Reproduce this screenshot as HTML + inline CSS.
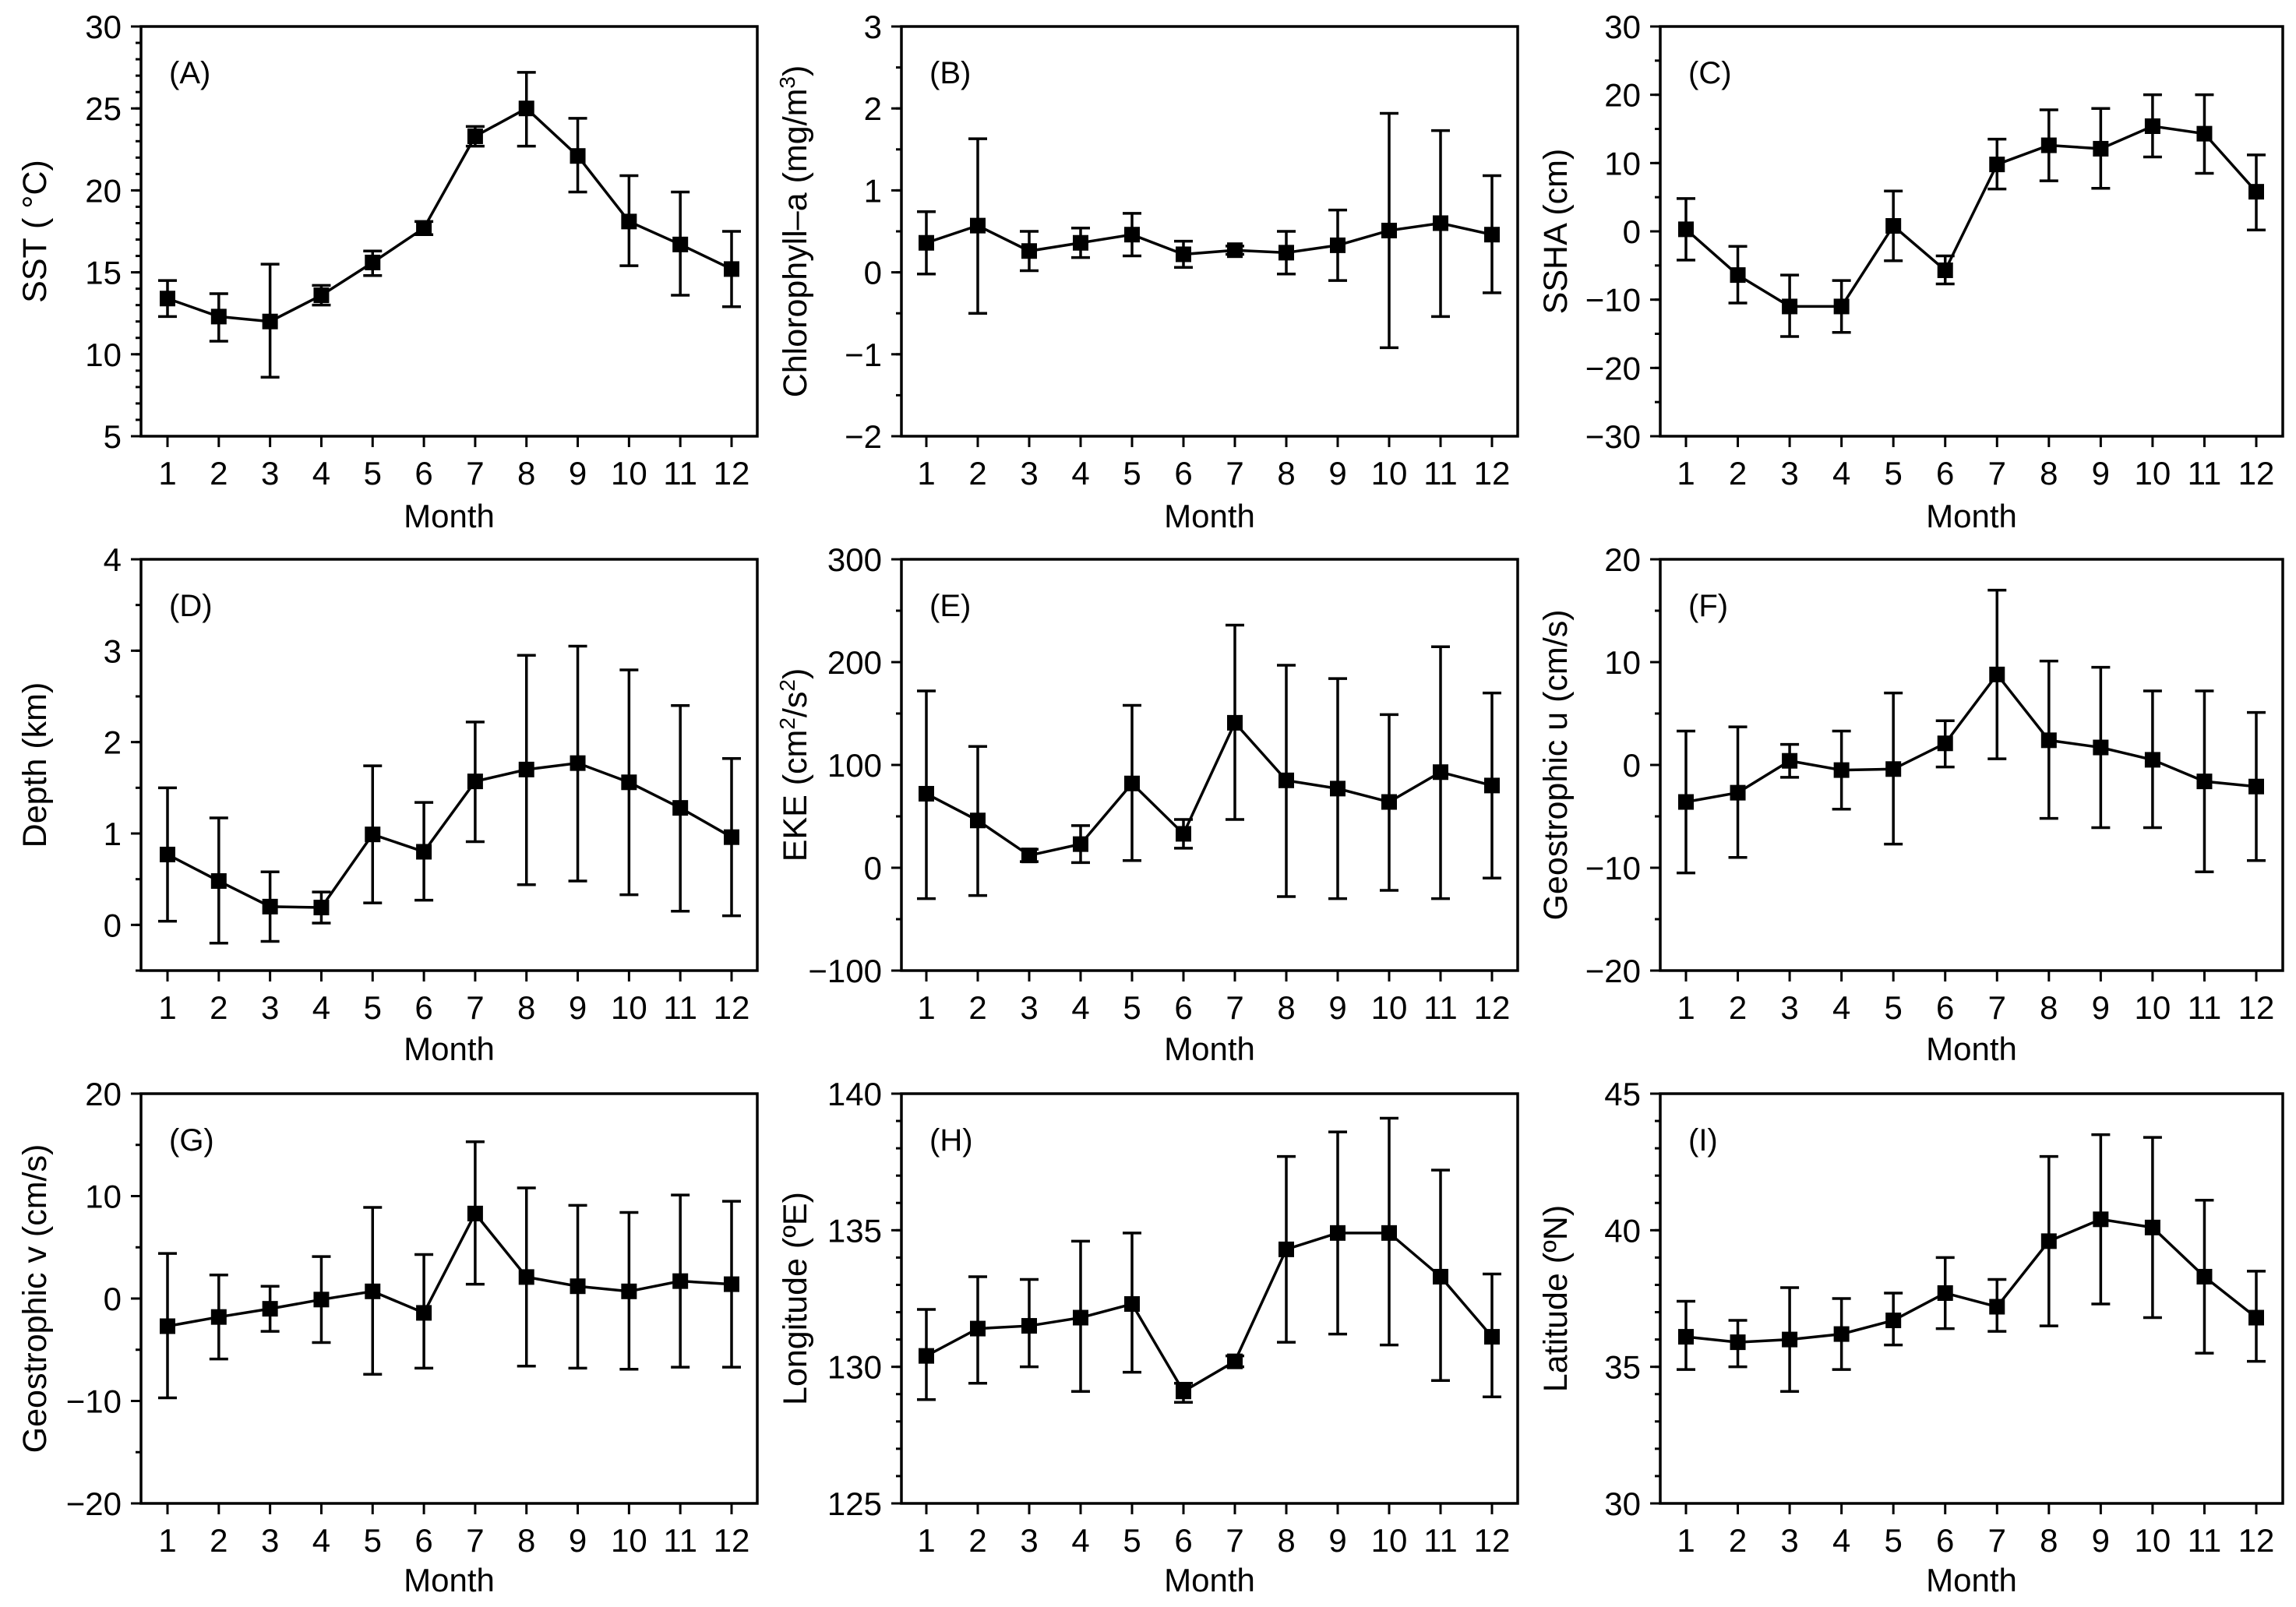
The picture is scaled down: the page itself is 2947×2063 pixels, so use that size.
<!DOCTYPE html>
<html><head><meta charset="utf-8"><style>
html,body{margin:0;padding:0;background:#fff;}
svg{display:block;font-family:"Liberation Sans",Arial,sans-serif;}
</style></head><body>
<svg id="fig" width="2947" height="2063" viewBox="0 0 2947 2063" xmlns="http://www.w3.org/2000/svg"></svg>
<script>
const months = [1,2,3,4,5,6,7,8,9,10,11,12];
const sstMean = [13.4,12.3,12.0,13.6,15.6,17.7,23.3,25.0,22.1,18.1,16.7,15.2];
const sstLo = [12.3,10.8,8.6,13.0,14.8,17.3,22.7,22.7,19.9,15.4,13.6,12.9];
const sstHi = [14.5,13.7,15.5,14.2,16.3,18.1,23.9,27.2,24.4,20.9,19.9,17.5];
const sstTicks = [5,10,15,20,25,30];
const chlMean = [0.36,0.57,0.26,0.36,0.46,0.22,0.27,0.24,0.33,0.51,0.6,0.46];
const chlLo = [-0.02,-0.5,0.02,0.18,0.2,0.06,0.22,-0.02,-0.1,-0.92,-0.54,-0.25];
const chlHi = [0.74,1.63,0.5,0.54,0.72,0.38,0.32,0.5,0.76,1.94,1.73,1.18];
const chlTicks = [-2,-1,0,1,2,3];
const sshaMean = [0.3,-6.4,-11,-11,0.8,-5.7,9.8,12.6,12.1,15.4,14.3,5.8];
const sshaLo = [-4.2,-10.5,-15.4,-14.8,-4.3,-7.7,6.2,7.4,6.3,10.9,8.5,0.2];
const sshaHi = [4.8,-2.2,-6.4,-7.2,5.9,-3.6,13.5,17.8,18,20,20,11.2];
const sshaTicks = [-30,-20,-10,0,10,20,30];
const depMean = [0.77,0.48,0.2,0.19,0.99,0.8,1.57,1.7,1.77,1.56,1.28,0.96];
const depLo = [0.04,-0.2,-0.18,0.02,0.24,0.27,0.91,0.44,0.48,0.33,0.15,0.1];
const depHi = [1.5,1.17,0.58,0.36,1.74,1.34,2.22,2.95,3.05,2.79,2.4,1.82];
const depTicks = [0,1,2,3,4];
const ekeMean = [72,46,12,23,82,33,141,85,77,64,93,80];
const ekeLo = [-30,-27,6,5,7,19,47,-28,-30,-22,-30,-10];
const ekeHi = [172,118,18,41,158,47,236,197,184,149,215,170];
const ekeTicks = [-100,0,100,200,300];
const uMean = [-3.6,-2.7,0.4,-0.5,-0.4,2.1,8.8,2.4,1.7,0.5,-1.6,-2.1];
const uLo = [-10.5,-9,-1.2,-4.3,-7.7,-0.2,0.6,-5.2,-6.1,-6.1,-10.4,-9.3];
const uHi = [3.3,3.7,2,3.3,7,4.3,17,10.1,9.5,7.2,7.2,5.1];
const uTicks = [-20,-10,0,10,20];
const vMean = [-2.7,-1.8,-1,-0.1,0.7,-1.4,8.3,2.1,1.2,0.7,1.7,1.4];
const vLo = [-9.7,-5.9,-3.2,-4.3,-7.4,-6.8,1.4,-6.6,-6.8,-6.9,-6.7,-6.7];
const vHi = [4.4,2.3,1.2,4.1,8.9,4.3,15.3,10.8,9.1,8.4,10.1,9.5];
const vTicks = [-20,-10,0,10,20];
const lonMean = [130.4,131.4,131.5,131.8,132.3,129.1,130.2,134.3,134.9,134.9,133.3,131.1];
const lonLo = [128.8,129.4,130,129.1,129.8,128.7,130,130.9,131.2,130.8,129.5,128.9];
const lonHi = [132.1,133.3,133.2,134.6,134.9,129.4,130.4,137.7,138.6,139.1,137.2,133.4];
const lonTicks = [125,130,135,140];
const latMean = [36.1,35.9,36.0,36.2,36.7,37.7,37.2,39.6,40.4,40.1,38.3,36.8];
const latLo = [34.9,35.0,34.1,34.9,35.8,36.4,36.3,36.5,37.3,36.8,35.5,35.2];
const latHi = [37.4,36.7,37.9,37.5,37.7,39.0,38.2,42.7,43.5,43.4,41.1,38.5];
const latTicks = [30,35,40,45];

const NS='http://www.w3.org/2000/svg';
const svg=document.getElementById('fig');
function mk(tag,attrs,parent){const e=document.createElementNS(NS,tag);for(const k in attrs)e.setAttribute(k,attrs[k]);(parent||svg).appendChild(e);return e;}

const cols=[{l:181,r:972,t1:215,t12:939,tx:44},{l:1157,r:1948,t1:1189,t12:1915,tx:1020},{l:2131,r:2930,t1:2164,t12:2896,tx:1996}];
const rows=[{t:34,b:560,lab:607,mon:662},{t:718,b:1246,lab:1293,mon:1346},{t:1404,b:1930,lab:1977,mon:2028}];

const panels=[
 {id:'a',lab:'(A)',min:5,max:30,minor:1,ticks:sstTicks,m:sstMean,lo:sstLo,hi:sstHi,title:['SST ( °C)']},
 {id:'b',lab:'(B)',min:-2,max:3,minor:0.5,ticks:chlTicks,m:chlMean,lo:chlLo,hi:chlHi,title:['Chlorophyll–a (mg/m','3',')']},
 {id:'c',lab:'(C)',min:-30,max:30,minor:5,ticks:sshaTicks,m:sshaMean,lo:sshaLo,hi:sshaHi,title:['SSHA (cm)']},
 {id:'d',lab:'(D)',min:-0.5,max:4,minor:0.5,ticks:depTicks,m:depMean,lo:depLo,hi:depHi,title:['Depth (km)']},
 {id:'e',lab:'(E)',min:-100,max:300,minor:50,ticks:ekeTicks,m:ekeMean,lo:ekeLo,hi:ekeHi,title:['EKE (cm','2','/s','2',')']},
 {id:'f',lab:'(F)',min:-20,max:20,minor:5,ticks:uTicks,m:uMean,lo:uLo,hi:uHi,title:['Geostrophic u (cm/s)']},
 {id:'g',lab:'(G)',min:-20,max:20,minor:5,ticks:vTicks,m:vMean,lo:vLo,hi:vHi,title:['Geostrophic v (cm/s)']},
 {id:'h',lab:'(H)',min:125,max:140,minor:1,ticks:lonTicks,m:lonMean,lo:lonLo,hi:lonHi,title:['Longitude (ºE)']},
 {id:'i',lab:'(I)',min:30,max:45,minor:1,ticks:latTicks,m:latMean,lo:latLo,hi:latHi,title:['Latitude (ºN)']}
];

panels.forEach((p,pi)=>{
 const c=cols[pi%3], r=rows[Math.floor(pi/3)];
 const g=mk('g',{});
 
 
 const X=mo=>c.t1+(mo-1)*(c.t12-c.t1)/11;
 const Y=v=>r.b-(v-p.min)/(p.max-p.min)*(r.b-r.t);
 const nMin=Math.round((p.max-p.min)/p.minor);
 for(let k=0;k<=nMin;k++){const v=p.min+k*p.minor;const y=Y(v);
  const t=mk('line',{x1:c.l-7,x2:c.l,y1:y,y2:y,stroke:'#000','stroke-width':3},g);
  
  }
 p.ticks.forEach(v=>{const y=Y(v);
  const t=mk('line',{x1:c.l-13,x2:c.l,y1:y,y2:y,stroke:'#000','stroke-width':3},g);
  
  
  const tx=mk('text',{x:c.l-25,y:y+15,'text-anchor':'end','font-size':42},g);
  tx.textContent=(v<0?'−'+Math.abs(v):String(v));
  
  });
 months.forEach(mo=>{const x=X(mo);
  const t=mk('line',{x1:x,x2:x,y1:r.b,y2:r.b+14,stroke:'#000','stroke-width':3},g);
  
  
  const tx=mk('text',{x:x,y:r.lab+15,'text-anchor':'middle','font-size':42},g);
  tx.textContent=String(mo);
  
  });
 const frame=mk('rect',{x:c.l,y:r.t,width:c.r-c.l,height:r.b-r.t,fill:'none',stroke:'#000','stroke-width':3.5},g);
 
 
 const mt=mk('text',{x:(c.l+c.r)/2,y:r.mon+15,'text-anchor':'middle','font-size':42},g);
 mt.textContent='Month';
 
 
 const cy=(r.t+r.b)/2;
 const yt=mk('text',{x:0,y:0,'text-anchor':'middle','font-size':43,transform:'translate('+(c.tx+15)+','+cy+') rotate(-90)'},g);
 p.title.forEach((s,i)=>{const ts=mk('tspan',{},yt);
  if(i%2===1){ts.setAttribute('baseline-shift','super');ts.setAttribute('font-size','28');}
  ts.textContent=s;});
 
 
 const pl=mk('text',{x:c.l+36,y:r.t+73,'font-size':40},g);
 pl.textContent=p.lab;
 
 
 months.forEach((mo,i)=>{const x=X(mo);
  const eb=mk('path',{d:'M'+x+' '+Y(p.lo[i])+'V'+Y(p.hi[i])+'M'+(x-12)+' '+Y(p.lo[i])+'H'+(x+12)+'M'+(x-12)+' '+Y(p.hi[i])+'H'+(x+12),stroke:'#000','stroke-width':3.5,fill:'none'},g);
  
  });
 const pts=months.map((mo,i)=>X(mo)+','+Y(p.m[i])).join(' ');
 const ln=mk('polyline',{points:pts,fill:'none',stroke:'#000','stroke-width':3.5},g);
 
 
 months.forEach((mo,i)=>{
  const s=mk('rect',{x:X(mo)-10,y:Y(p.m[i])-10,width:20,height:20,fill:'#000'},g);
  
  });
});
</script>
</body></html>
